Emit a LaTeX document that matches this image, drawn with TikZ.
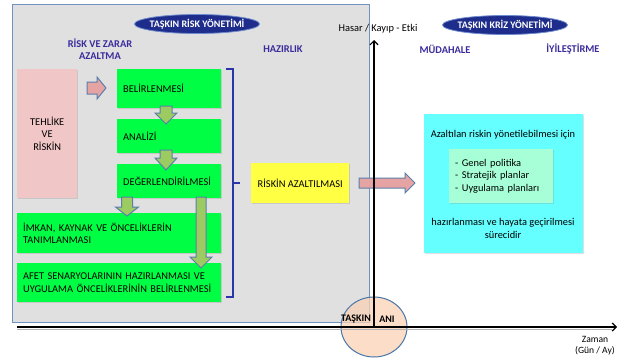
\documentclass[tikz,border=0pt]{standalone}
\usepackage{fontspec}
\setmainfont{Carlito}
\usetikzlibrary{shapes.geometric,arrows.meta,shadows}
\definecolor{gpanel}{HTML}{E0E0E0}
\definecolor{gedge}{HTML}{6F93C0}
\definecolor{navy}{HTML}{1E2D8C}
\definecolor{hdr}{HTML}{3A2C9C}
\definecolor{gbright}{HTML}{00FF44}
\definecolor{pinkbox}{HTML}{F0C6C6}
\definecolor{ybox}{HTML}{FFFF44}
\definecolor{cbox}{HTML}{66FFFF}
\definecolor{mbox}{HTML}{A6FFD6}
\definecolor{arrowedge}{HTML}{5A7FAA}
\definecolor{garrowfill}{HTML}{9CCB62}
\definecolor{parrowfill}{HTML}{E6A3A3}
\definecolor{brk}{HTML}{2A36A8}
\definecolor{peach}{HTML}{F9D2B6}
\definecolor{circedge}{HTML}{4A76A8}
% vertical block arrow: style, cx, ytop, yhead, ytip, shaft half, head half
\newcommand\myvarrow[7]{%
  \draw[#1] ({#2-#6},#3) -- ({#2+#6},#3) -- ({#2+#6},#4) -- ({#2+#7},#4)
    -- (#2,#5) -- ({#2-#7},#4) -- ({#2-#6},#4) -- cycle;}
% horizontal block arrow: style, cy, xstart, xhead, xtip, shaft half, head half
\newcommand\myharrow[7]{%
  \draw[#1] (#3,{#2-#6}) -- (#4,{#2-#6}) -- (#4,{#2-#7}) -- (#5,#2)
    -- (#4,{#2+#7}) -- (#4,{#2+#6}) -- (#3,{#2+#6}) -- cycle;}
\begin{document}
\begin{tikzpicture}[x=1pt,y=-1pt,
  font=\fontsize{10.4}{12.5}\selectfont,
  shade/.style={drop shadow={shadow xshift=1pt,shadow yshift=-1.2pt,opacity=0.25}},
  box/.style={anchor=north west, inner xsep=6pt, inner ysep=0pt, align=left, shade},
  gbox/.style={box, fill=gbright},
  ell/.style={ellipse, fill=navy, draw={rgb,255:red,110;green,140;blue,205}, line width=0.8pt,
    minimum width=125pt, minimum height=19pt, inner sep=0pt},
  elltext/.style={text=white, font=\fontsize{10}{12}\selectfont\bfseries, inner sep=0pt},
  hdrtext/.style={text=hdr, font=\fontsize{10.4}{12}\selectfont\bfseries, align=center, inner sep=0pt},
  plain/.style={inner sep=0pt, align=center},
  garrow/.style={fill=garrowfill, draw=arrowedge, line width=1pt, line join=miter},
  parrow/.style={fill=parrowfill, draw=arrowedge, line width=1pt, line join=miter},
  axis/.style={line width=1.4pt, -{Straight Barb[length=4pt,width=8pt,line width=1.2pt]}},
  bracket/.style={draw=brk, line width=1.2pt}
]
\useasboundingbox (0,0) rectangle (629,362);
% gray panel
\node[draw=gedge, fill=gpanel, line width=1pt, minimum width=357pt, minimum height=318pt,
  anchor=north west, inner sep=0pt] (panel) at (12,4) {};
% headers
\node[ell] (rm) at (197,24) {};
\node[elltext] at (rm) {TAŞKIN RİSK YÖNETİMİ};
\node[ell] (km) at (505,25) {};
\node[elltext] at (km) {TAŞKIN KRİZ YÖNETİMİ};
\node[hdrtext] (rza) at (100,49) {RİSK VE ZARAR\\AZALTMA};
\node[hdrtext] (haz) at (283,49) {HAZIRLIK};
\node[hdrtext] (mud) at (445,49) {MÜDAHALE};
\node[hdrtext] (iyi) at (573,49) {İYİLEŞTİRME};
\node[plain] (hasar) at (378,29) {Hasar / Kayıp - Etki};
% boxes
\node[box, fill=pinkbox, align=center, inner xsep=0pt, text width=60pt, minimum height=129pt] (teh) at (17,69) {TEHLİKE\\VE\\RİSKİN};
\node[gbox, text width=92pt, minimum height=39pt] (bel) at (117,69) {BELİRLENMESİ};
\node[gbox, text width=92pt, minimum height=34pt] (ana) at (117,119) {ANALİZİ};
\node[gbox, text width=92pt, minimum height=34pt] (deg) at (117,164) {DEĞERLENDİRİLMESİ};
\node[gbox, text width=192pt, minimum height=40pt] (imk) at (17,213) {İMKAN, KAYNAK VE ÖNCELİKLERİN\\TANIMLANMASI};
\node[gbox, text width=192pt, minimum height=39pt] (afet) at (17,263) {AFET SENARYOLARININ HAZIRLANMASI VE\\UYGULAMA ÖNCELİKLERİNİN BELİRLENMESİ};
\node[box, fill=ybox, inner xsep=4pt, minimum width=98pt, minimum height=40pt] (raz) at (251,163) {RİSKİN AZALTILMASI};
% cyan box
\node[box, fill=cbox, inner xsep=0pt, text width=159pt, minimum height=139pt] (cyan) at (424,114) {};
\node[plain] (c1) at (503,135) {Azaltılan riskin yönetilebilmesi için};
\node[box, fill=mbox, text width=92pt, minimum height=54pt] (mint) at (449,149) {- Genel politika\\- Stratejik planlar\\- Uygulama planları};
\node[plain] (c2) at (503,228.5) {hazırlanması ve hayata geçirilmesi\\sürecidir};
% bracket
\draw[bracket] (226,69) -- (233,69) -- (233,297) -- (226,297);
\draw[bracket] (233,183) -- (240,183);
% block arrows
\myharrow{parrow}{88}{87}{97}{106}{6}{11}
\myvarrow{garrow}{166}{106}{113}{124}{6}{11}
\myvarrow{garrow}{166}{150}{158}{170}{6}{11}
\myvarrow{garrow}{127}{197}{207}{216}{5.5}{11.5}
\myvarrow{garrow}{201}{197}{257}{268}{5}{11}
\myharrow{parrow}{183}{359}{405}{415}{5}{10}
% flood moment circle
\node[ellipse, minimum width=66pt, minimum height=60pt, fill=peach, fill opacity=0.75,
  draw=circedge, line width=1pt] (flood) at (374,327) {};
% axes
\coordinate (origin) at (374,327);
\coordinate (xstart) at (17,327);
\coordinate (xend) at (617,327);
\coordinate (yend) at (374,40);
\draw[gray!60, line width=1pt] (17,329) -- (612,329);
\draw[axis] (xstart) -- (xend);
\draw[axis] (origin) -- (yend);
\node[plain, font=\fontsize{10}{12}\selectfont\bfseries] (tk) at (356,319) {TAŞKIN};
\node[plain, font=\fontsize{10}{12}\selectfont\bfseries] (ani) at (387,319) {ANI};
\node[plain, font=\fontsize{9.6}{11}\selectfont] (zaman) at (595,346) {Zaman\\(Gün / Ay)};
\end{tikzpicture}
\end{document}
